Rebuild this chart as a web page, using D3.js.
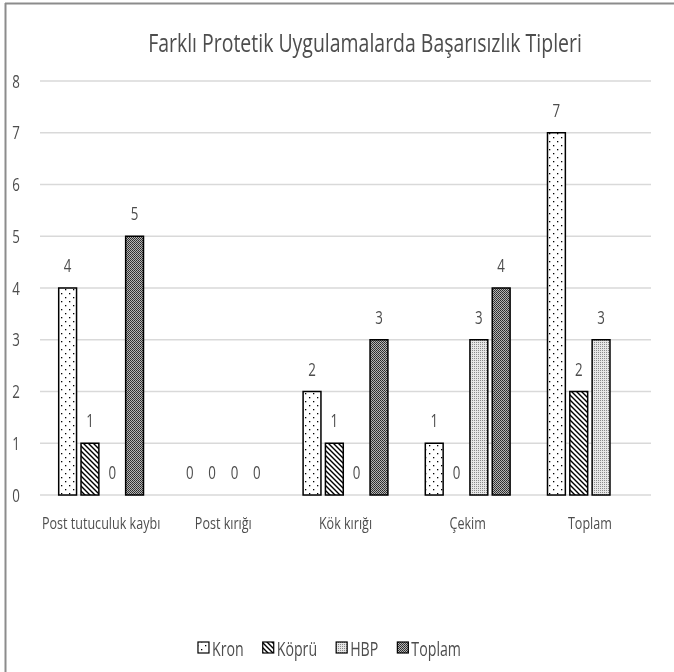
<!DOCTYPE html>
<html><head><meta charset="utf-8">
<script src="https://cdn.jsdelivr.net/npm/d3@7"></script>
<style>body{margin:0;background:#fff}svg{display:block}</style>
</head><body>
<script>
const categories = ["Post tutuculuk kaybı","Post kırığı","Kök kırığı","Çekim","Toplam"];
const seriesNames = ["Kron","Köprü","HBP","Toplam"];
const kron   = [4,0,2,1,7];
const kopru  = [1,0,1,0,2];
const hbp    = [0,0,0,3,3];
const toplam = [5,0,3,4,null];
const yTicks = [0,1,2,3,4,5,6,7,8];
const title = "Farklı Protetik Uygulamalarda Başarısızlık Tipleri";

const seriesValues = [kron,kopru,hbp,toplam];
const W=674,H=672;
const FONT = "'Open Sans',sans-serif";
const TXT = "#4d4d4d";
const SQ = 0.74;
const svg = d3.select("body").append("svg").attr("width",W).attr("height",H);
const defs = svg.append("defs");
// grayscale rasterisation filter for text (avoid colour fringes)
const flt = defs.append("filter").attr("id","gray").attr("x","-10%").attr("y","-30%").attr("width","120%").attr("height","160%");
flt.append("feOffset").attr("dx",0).attr("dy",0);

// squeezed text: a group translated to (x,y) and scaled horizontally
function sText(parent,x,yy,str,size,anchor,sx){
  const gg = parent.append("g").attr("transform",`translate(${x},${yy}) scale(${sx},1)`);
  const t = gg.append("text").attr("x",0).attr("y",0).attr("text-anchor",anchor)
    .attr("font-family",FONT).attr("font-size",size).attr("fill",TXT).text(str);
  return t;
}

// patterns
function pat(id,w,h){return defs.append("pattern").attr("id",id).attr("patternUnits","userSpaceOnUse").attr("width",w).attr("height",h);}
let p = pat("pKron",8,8);
p.append("rect").attr("width",8).attr("height",8).attr("fill","#fff");
p.append("rect").attr("x",1).attr("y",1).attr("width",1.3).attr("height",1.3).attr("fill","#000");
p.append("rect").attr("x",5).attr("y",5).attr("width",1.3).attr("height",1.3).attr("fill","#000");
p = pat("pKopru",5,5);
p.append("rect").attr("width",5).attr("height",5).attr("fill","#fff");
p.append("path").attr("d","M-1,-1L6,6M-1,4L1,6M4,-1L6,1").attr("stroke","#000").attr("stroke-width",1.4);
p = pat("pHBP",2,2);
p.append("rect").attr("width",2).attr("height",2).attr("fill","#e6e6e6");
p.append("rect").attr("x",0).attr("y",0).attr("width",1).attr("height",1).attr("fill","#8a8a8a");
p = pat("pTop",2,2);
p.append("rect").attr("width",2).attr("height",2).attr("fill","#b5b5b5");
p.append("rect").attr("x",0).attr("y",0).attr("width",1).attr("height",1).attr("fill","#2a2a2a");
p.append("rect").attr("x",1).attr("y",1).attr("width",1).attr("height",1).attr("fill","#3a3a3a");
const fills = ["url(#pKron)","url(#pKopru)","url(#pHBP)","url(#pTop)"];

// frame
svg.append("line").attr("x1",5).attr("x2",W).attr("y1",3.5).attr("y2",3.5).attr("stroke","#8c8c8c").attr("stroke-width",2);
svg.append("line").attr("x1",5.5).attr("x2",5.5).attr("y1",3).attr("y2",H).attr("stroke","#8c8c8c").attr("stroke-width",2);

const x0 = d3.scaleBand().domain(categories).range([40,651]);
const bw = x0.bandwidth();
const x1 = d3.scaleBand().domain(seriesNames).range([bw*0.153,bw*0.847]).paddingInner(0.2);
const y = d3.scaleLinear().domain([0,8]).range([495,81]);

// grid
svg.append("g").selectAll("line").data(yTicks).join("line")
  .attr("x1",40).attr("x2",651).attr("y1",d=>y(d)).attr("y2",d=>y(d))
  .attr("stroke","#d9d9d9").attr("stroke-width",1.5);

// bars
const g = svg.append("g");
categories.forEach((c,ci)=>{
  seriesNames.forEach((s,si)=>{
    const v = seriesValues[si][ci];
    if(v===null||v===undefined||v<=0) return;
    const bx = x0(c)+x1(s);
    g.append("rect").attr("x",bx).attr("y",y(v)).attr("width",x1.bandwidth()).attr("height",y(0)-y(v))
      .attr("fill",fills[si]).attr("stroke","#000").attr("stroke-width",1.5);
  });
});

// all texts in one filtered layer
const tl = svg.append("g").attr("filter","url(#gray)");

// title
const tt = sText(tl,365,52,title,25,"middle",1);
const tw0 = tt.node().getComputedTextLength();
tt.node().parentNode.setAttribute("transform",`translate(365,52) scale(${434/tw0},1)`);

// y tick labels
yTicks.forEach(d=>sText(tl,16,y(d)+6.5,d,18,"middle",SQ));

// value labels
categories.forEach((c,ci)=>{
  seriesNames.forEach((s,si)=>{
    const v = seriesValues[si][ci];
    if(v===null||v===undefined) return;
    const bx = x0(c)+x1(s);
    sText(tl,bx+x1.bandwidth()/2,y(v)-16,v,18,"middle",SQ);
  });
});

// category labels
categories.forEach(c=>sText(tl,x0(c)+bw/2,529,c,17,"middle",SQ));

// legend
const lg = svg.append("g");
const lt = tl.append("g");
const LS = 0.71;
const widths = [];
seriesNames.forEach((s,i)=>{
  const probe = lt.append("text").attr("font-family",FONT).attr("font-size",20).text(s);
  widths.push(probe.node().getComputedTextLength()*LS);
  probe.remove();
});
const total = widths.reduce((a,w)=>a+14+w,0) + 19*(seriesNames.length-1);
let lx = 329.5-total/2;
seriesNames.forEach((s,i)=>{
  lg.append("rect").attr("x",lx).attr("y",656-14).attr("width",11).attr("height",11)
    .attr("fill",fills[i]).attr("stroke","#000").attr("stroke-width",1.2);
  sText(lt,lx+14,656,s,20,"start",LS);
  lx += 14 + widths[i] + 19;
});
</script>
</body></html>
